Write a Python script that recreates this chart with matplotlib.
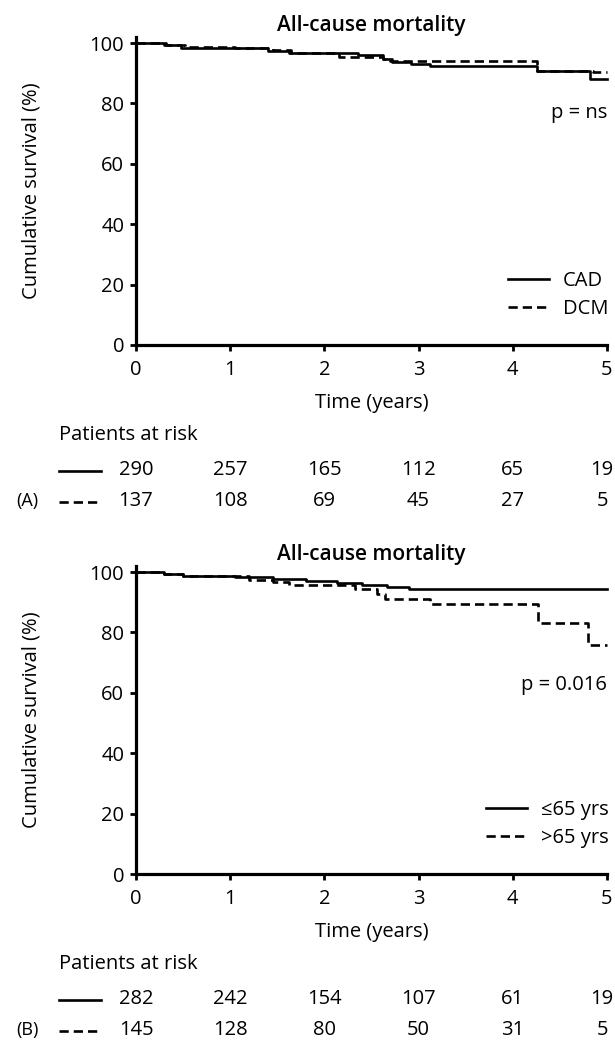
import matplotlib
matplotlib.use("Agg")
import matplotlib.pyplot as plt
from matplotlib.lines import Line2D
import matplotlib.transforms as mtransforms

plt.rcParams['font.family'] = ['Open Sans', 'DejaVu Sans']

# ---------------- data ----------------
title = "All-cause mortality"
xticks = [0, 1, 2, 3, 4, 5]
yticks = [0, 20, 40, 60, 80, 100]

# Panel A
cad_t = [0, 0.30, 0.48, 0.95, 1.40, 1.62, 2.36, 2.62, 2.72, 2.92, 3.12, 4.26, 4.82]
cad_s = [100, 99.3, 98.5, 98.2, 97.5, 96.8, 96.0, 94.8, 93.8, 93.2, 92.3, 90.6, 88.0]
dcm_t = [0, 0.32, 0.52, 1.05, 1.45, 1.65, 2.15, 2.62, 2.70, 4.26, 4.85]
dcm_s = [100, 99.3, 98.6, 98.3, 97.8, 96.8, 95.5, 94.8, 94.0, 90.8, 90.4]
risk_a_solid = [290, 257, 165, 112, 65, 19]
risk_a_dash = [137, 108, 69, 45, 27, 5]
labels_a = ["CAD", "DCM"]
p_a = "p = ns"
p_a_y = 76.8

# Panel B
young_t = [0, 0.30, 0.50, 1.05, 1.45, 1.80, 2.13, 2.40, 2.66, 2.90]
young_s = [100, 99.3, 98.6, 98.3, 97.8, 97.0, 96.5, 95.7, 95.0, 94.4]
old_t = [0, 0.30, 0.50, 1.20, 1.45, 1.62, 2.33, 2.56, 2.64, 3.12, 4.27, 4.80]
old_s = [100, 99.3, 98.6, 97.5, 96.6, 95.6, 94.3, 92.7, 91.0, 89.5, 83.2, 75.8]
risk_b_solid = [282, 242, 154, 107, 61, 19]
risk_b_dash = [145, 128, 80, 50, 31, 5]
labels_b = ["\u226465 yrs", ">65 yrs"]
p_b = "p = 0.016"
p_b_y = 62.5

t_end = 5.0

# ---------------- figure ----------------
W, H = 615, 1044
fig = plt.figure(figsize=(W / 100, H / 100), dpi=100)
FS = 14.5
DASH = (0, (3.5, 1.9))
LW = 1.9


def fy(px):
    return 1 - px / H


def fx(px):
    return px / W


def panel(ax_rect, t1, s1, t2, s2, labels, ptxt, py, rs, rd, tag, off):
    ax = fig.add_axes(ax_rect)
    x1 = list(t1) + [t_end]
    y1 = list(s1) + [s1[-1]]
    x2 = list(t2) + [t_end]
    y2 = list(s2) + [s2[-1]]
    ax.step(x1, y1, where='post', color='black', lw=LW, clip_on=False,
            label=labels[0], zorder=3)
    ax.step(x2, y2, where='post', color='black', lw=LW, ls=DASH,
            clip_on=False, label=labels[1], zorder=3)
    ax.set_xlim(0, 5)
    ax.set_ylim(0, 102)
    ax.set_xticks(xticks)
    ax.set_yticks(yticks)
    for s in ['top', 'right']:
        ax.spines[s].set_visible(False)
    for s in ['left', 'bottom']:
        ax.spines[s].set_linewidth(2.3)
    ax.tick_params(axis='both', direction='out', length=4.5, width=2.0,
                   labelsize=FS)
    ax.tick_params(axis='x', pad=6)
    ax.tick_params(axis='y', pad=4)
    ax.set_xlabel("Time (years)", fontsize=FS, labelpad=10)
    ax.set_ylabel("Cumulative survival (%)", fontsize=FS)
    ax.yaxis.set_label_coords((42 - 136) / 471, 0.5)
    ax.set_title(title, fontsize=15, fontweight='semibold', pad=4)
    ax.text(1.0, py, ptxt, transform=mtransforms.blended_transform_factory(
        ax.transAxes, ax.transData), ha='right', va='center', fontsize=FS)
    ax.legend(loc='lower right', bbox_to_anchor=(1.02, 0.058), frameon=False,
              fontsize=FS, handlelength=2.0, handletextpad=0.7,
              labelspacing=0.42, borderaxespad=0)

    # risk table
    tr = mtransforms.blended_transform_factory(ax.transData, fig.transFigure)
    fig.text(fx(59), fy(435 + off), "Patients at risk", fontsize=FS,
             ha='left', va='center')
    for i, (a, b) in enumerate(zip(rs, rd)):
        t = tr
        if i == len(rs) - 1:
            t = tr + mtransforms.ScaledTranslation(-5 / 100, 0,
                                                   fig.dpi_scale_trans)
        ax.text(xticks[i], fy(470 + off), str(a), transform=t, ha='center',
                va='center', fontsize=FS, clip_on=False)
        ax.text(xticks[i], fy(501 + off), str(b), transform=t, ha='center',
                va='center', fontsize=FS, clip_on=False)
    fig.add_artist(Line2D([fx(59), fx(101)], [fy(471 + off)] * 2,
                          color='black', lw=LW, transform=fig.transFigure))
    fig.add_artist(Line2D([fx(59), fx(101)], [fy(502 + off)] * 2,
                          color='black', lw=LW, ls=DASH,
                          transform=fig.transFigure))
    fig.text(fx(27), fy(501 + off), tag, fontsize=FS - 1.5, ha='center',
             va='center')
    return ax


left = fx(136)
width = fx(607) - fx(136)
hgt = (345 - 37) / H
panel([left, fy(345), width, hgt], cad_t, cad_s, dcm_t, dcm_s, labels_a, p_a,
      p_a_y, risk_a_solid, risk_a_dash, "(A)", 0)
panel([left, fy(874), width, hgt], young_t, young_s, old_t, old_s, labels_b,
      p_b, p_b_y, risk_b_solid, risk_b_dash, "(B)", 529)

fig.savefig("out.png", dpi=100)
